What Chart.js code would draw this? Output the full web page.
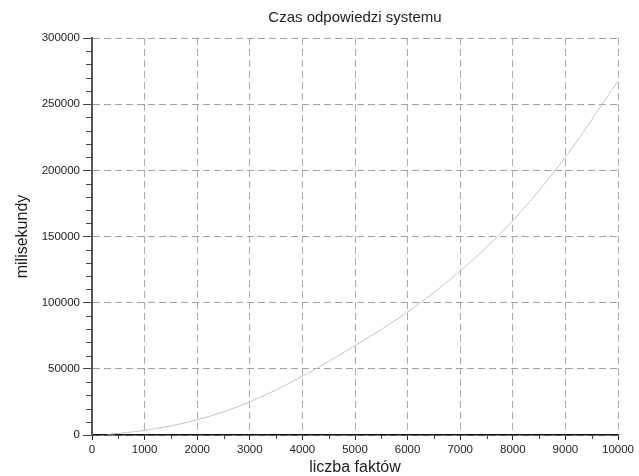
<!DOCTYPE html>
<html>
<head>
<meta charset="utf-8">
<script src="https://cdn.jsdelivr.net/npm/chart.js@4/dist/chart.umd.min.js"></script>
<style>
  html, body { margin: 0; padding: 0; background: #fff; }
  #wrap { width: 639px; height: 476px; }
</style>
</head>
<body>
<div id="wrap"><canvas id="chart" width="639" height="476"></canvas></div>
<script>
// ── Data ──────────────────────────────────
const chartTitle = 'Czas odpowiedzi systemu';
const xTitle     = 'liczba faktów';
const yTitle     = 'milisekundy';

const factCounts = [300, 1000, 2000, 3000, 4000, 5000, 6000, 7000, 8000, 9000, 10000];
const responseMs = [500, 3500, 11500, 25000, 44500, 67500, 93000, 124000, 162000, 210000, 267500];

const xTicks = [0, 1000, 2000, 3000, 4000, 5000, 6000, 7000, 8000, 9000, 10000];
const yTicks = [0, 50000, 100000, 150000, 200000, 250000, 300000];

const xMinorSplit = 2;   // minor ticks every 500
const yMinorSplit = 5;   // minor ticks every 10000

const FONT = 'Liberation Sans, Arial, sans-serif';

// ── Minor tick marks (Scilab style) ───────
const minorTicks = {
  id: 'minorTicks',
  afterDraw(chart) {
    const { ctx, chartArea: a, scales: { x, y } } = chart;
    ctx.save();
    ctx.strokeStyle = '#444';
    ctx.lineWidth = 1;
    ctx.beginPath();
    for (let i = 0; i < yTicks.length - 1; i++) {
      const step = (yTicks[i + 1] - yTicks[i]) / yMinorSplit;
      for (let k = 1; k < yMinorSplit; k++) {
        const py = Math.round(y.getPixelForValue(yTicks[i] + k * step)) + 0.5;
        ctx.moveTo(a.left - 6, py);
        ctx.lineTo(a.left, py);
      }
    }
    for (let i = 0; i < xTicks.length - 1; i++) {
      const step = (xTicks[i + 1] - xTicks[i]) / xMinorSplit;
      for (let k = 1; k < xMinorSplit; k++) {
        const px = Math.round(x.getPixelForValue(xTicks[i] + k * step)) + 0.5;
        ctx.moveTo(px, a.bottom);
        ctx.lineTo(px, a.bottom + 4);
      }
    }
    ctx.stroke();
    ctx.restore();
  }
};

new Chart(document.getElementById('chart'), {
  type: 'line',
  data: {
    datasets: [{
      label: yTitle,
      data: factCounts.map((v, i) => ({ x: v, y: responseMs[i] })),
      borderColor: '#c4c4c4',
      borderWidth: 1,
      pointRadius: 0,
      fill: false,
      cubicInterpolationMode: 'monotone',
    }],
  },
  options: {
    responsive: false,
    animation: false,
    devicePixelRatio: 1,
    layout: { padding: { left: 0, right: 21, top: 0, bottom: 0 } },
    plugins: {
      legend: { display: false },
      tooltip: { enabled: false },
      title: {
        display: true, text: chartTitle, fullSize: false, color: '#222',
        font: { family: FONT, size: 15, weight: 'normal', lineHeight: 1.2 },
        padding: { top: 8.5, bottom: 11.5 },
      },
    },
    scales: {
      x: {
        type: 'linear', min: 0, max: 10000,
        afterBuildTicks: s => { s.ticks = xTicks.map(v => ({ value: v })); },
        afterFit: s => { s.height = 41; },
        grid: { color: '#ababab', lineWidth: 1, tickLength: 5, tickColor: '#222', tickWidth: 1, tickBorderDash: [] },
        border: { display: true, color: '#111', width: 1.5, dash: [7, 4] },
        ticks: { autoSkip: false, maxRotation: 0, padding: 3, color: '#222', font: { family: FONT, size: 11.5 }, callback: v => String(v) },
        title: { display: true, text: xTitle, color: '#222', font: { family: FONT, size: 16, lineHeight: 1 }, padding: { top: 0, bottom: 0 } },
      },
      y: {
        type: 'linear', min: 0, max: 300000,
        afterBuildTicks: s => { s.ticks = yTicks.map(v => ({ value: v })); },
        afterFit: s => { s.width = 92; },
        grid: { color: '#a0a0a0', lineWidth: 1, tickLength: 9, tickColor: '#444', tickWidth: 1, tickBorderDash: [] },
        border: { display: true, color: '#555', width: 2, dash: [7, 4] },
        ticks: { padding: 3, color: '#222', font: { family: FONT, size: 11.5 }, callback: v => String(v) },
        title: { display: true, text: yTitle, color: '#222', font: { family: FONT, size: 16, lineHeight: 1 }, padding: { top: 15, bottom: 0 } },
      },
    },
  },
  plugins: [minorTicks],
});
</script>
</body>
</html>
